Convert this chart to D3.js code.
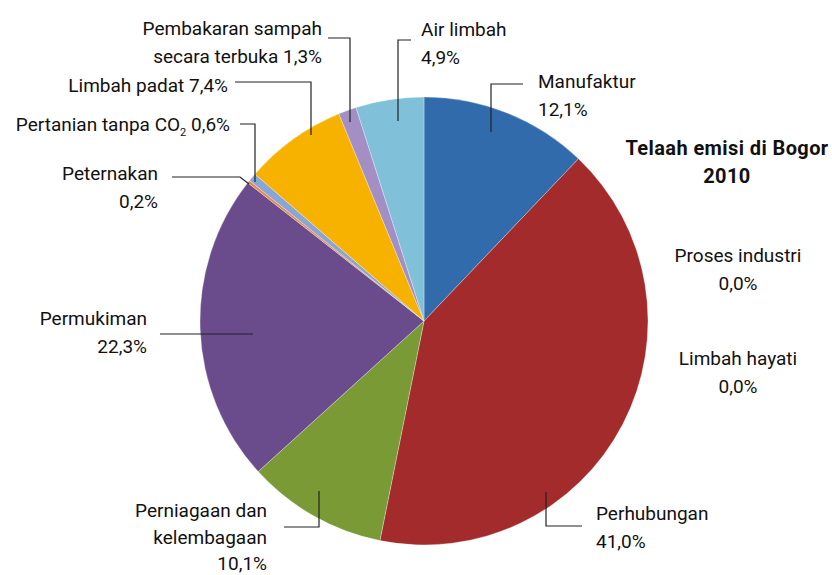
<!DOCTYPE html>
<html>
<head>
<meta charset="utf-8">
<script src="https://cdn.jsdelivr.net/npm/d3@7"></script>
<style>
  body { margin: 0; background: #fff; }
  svg text { font-family: Roboto, "Open Sans", sans-serif; fill: #111; }
</style>
</head>
<body>
<div id="grafik"></div>
<script>
// Data emisi (urutan searah jarum jam mulai dari jam 12)
const sektor = ["Manufaktur", "Proses industri", "Limbah hayati", "Perhubungan",
    "Perniagaan dan kelembagaan", "Permukiman", "Peternakan", "Pertanian tanpa CO2",
    "Limbah padat", "Pembakaran sampah secara terbuka", "Air limbah"];
const persen = [12.1, 0.0, 0.0, 41.0, 10.1, 22.3, 0.2, 0.6, 7.4, 1.3, 4.9];
const warna = ["#326bab", "#326bab", "#326bab", "#a32b2c", "#7a9a35", "#6a4b8c",
    "#e8894a", "#8aa6d6", "#f7b200", "#a48fc4", "#80c1d9"];

const svgWidth = 832, svgHeight = 575;
const cx = 424, cy = 321, radius = 224;

const svg = d3.select("#grafik")
    .append("svg")
    .attr("width", svgWidth)
    .attr("height", svgHeight);

const pie = d3.pie().sort(null).value(d => d)(persen);
const arc = d3.arc().innerRadius(0).outerRadius(radius);

const g = svg.append("g").attr("transform", `translate(${cx}, ${cy})`);

g.selectAll("path")
    .data(pie.filter(d => d.value > 0))
    .enter()
    .append("path")
    .attr("d", arc)
    .attr("fill", d => warna[d.index])
    .attr("stroke", "#ffffff")
    .attr("stroke-opacity", 0.5)
    .attr("stroke-width", 0.6);

// Label: baris teks, posisi dan garis penunjuk
const fmt = v => d3.format(".1f")(v).replace(".", ",") + "%";

const label = [
    { i: 0, lines: ["Manufaktur", fmt(persen[0])], x: 538, y: 88, anchor: "start",
      leader: [[523, 84], [491, 84], [491, 132]] },
    { i: 1, lines: ["Proses industri", fmt(persen[1])], x: 738, y: 262, anchor: "middle" },
    { i: 2, lines: ["Limbah hayati", fmt(persen[2])], x: 738, y: 365, anchor: "middle" },
    { i: 3, lines: ["Perhubungan", fmt(persen[3])], x: 596, y: 520, anchor: "start",
      leader: [[582, 526], [546, 526], [546, 492]] },
    { i: 4, lines: ["Perniagaan dan", "kelembagaan", fmt(persen[4])], x: 267, y: 517, anchor: "end", lh: 26.5,
      leader: [[284, 527], [319, 527], [319, 491]] },
    { i: 5, lines: ["Permukiman", fmt(persen[5])], x: 147, y: 325, anchor: "end",
      leader: [[160, 334], [253, 334]] },
    { i: 6, lines: ["Peternakan", fmt(persen[6])], x: 158, y: 180, anchor: "end",
      leader: [[172, 177], [240, 177], [249, 184]] },
    { i: 7, lines: ["Pertanian tanpa CO", fmt(persen[7])], x: 230, y: 131, anchor: "end", co2: true,
      leader: [[240, 124], [255, 124], [255, 182]] },
    { i: 8, lines: ["Limbah padat " + fmt(persen[8])], x: 228, y: 92, anchor: "end",
      leader: [[235, 82], [311, 82], [311, 135]] },
    { i: 9, lines: ["Pembakaran sampah", "secara terbuka " + fmt(persen[9])], x: 322, y: 35, anchor: "end",
      leader: [[328, 38], [350, 38], [350, 122]] },
    { i: 10, lines: ["Air limbah", fmt(persen[10])], x: 421, y: 36, anchor: "start",
      leader: [[411, 40], [398, 40], [398, 121]] }
];

const lineGen = d3.line();
const lineHeight = 27.5;

label.forEach(l => {
    if (l.leader) {
        svg.append("path")
            .attr("d", lineGen(l.leader))
            .attr("fill", "none")
            .attr("stroke", "#222")
            .attr("stroke-width", 1.2);
    }
    const t = svg.append("text")
        .attr("x", l.x)
        .attr("y", l.y)
        .attr("text-anchor", l.anchor)
        .style("font-size", "19px");
    if (l.co2) {
        t.append("tspan").text(l.lines[0]);
        t.append("tspan").attr("dy", 5).style("font-size", "11px").text("2");
        t.append("tspan").attr("dy", -5).text(" " + l.lines[1]);
    } else {
        l.lines.forEach((s, k) => {
            t.append("tspan")
                .attr("x", l.x)
                .attr("dy", k === 0 ? 0 : (l.lh || lineHeight))
                .text(s);
        });
    }
});

// Judul
const judul = svg.append("text")
    .attr("x", 727)
    .attr("y", 155)
    .attr("text-anchor", "middle")
    .style("font-size", "20px")
    .style("letter-spacing", "0.4px")
    .style("font-weight", "bold");
judul.append("tspan").attr("x", 727).text("Telaah emisi di Bogor");
judul.append("tspan").attr("x", 727).attr("dy", 28).text("2010");
</script>
</body>
</html>
